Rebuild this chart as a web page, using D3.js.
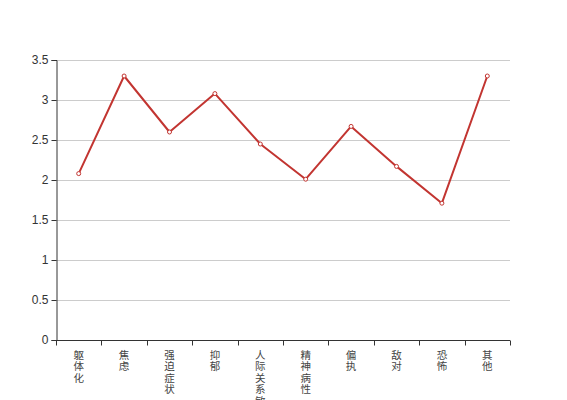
<!DOCTYPE html>
<html>
<head>
<meta charset="utf-8">
<script src="https://cdn.jsdelivr.net/npm/d3@7"></script>
<style>
  body { margin: 0; background: #fff; }
  svg { display: block; font-family: "Liberation Sans", "Noto Sans CJK SC", sans-serif; }
</style>
</head>
<body>
<div id="chart"></div>
<script>
// Factor scores
const categories = ["躯体化", "焦虑", "强迫症状", "抑郁", "人际关系敏感", "精神病性", "偏执", "敌对", "恐怖", "其他"];
const values = [2.08, 3.30, 2.60, 3.08, 2.45, 2.01, 2.67, 2.17, 1.71, 3.30];
const yTicks = [0, 0.5, 1, 1.5, 2, 2.5, 3, 3.5];

const width = 567, height = 400;
const margin = { top: 60, right: 57, bottom: 60, left: 56 };
const innerWidth = width - margin.left - margin.right;
const innerHeight = height - margin.top - margin.bottom;

const svg = d3.select("#chart").append("svg")
  .attr("width", width)
  .attr("height", height);

const g = svg.append("g")
  .attr("transform", `translate(${margin.left},${margin.top})`);

const x = d3.scaleBand()
  .domain(categories)
  .range([0, innerWidth]);

const y = d3.scaleLinear()
  .domain([0, 3.5])
  .range([innerHeight, 0]);

// Grid lines
g.append("g")
  .selectAll("line")
  .data(yTicks.filter(t => t > 0))
  .join("line")
  .attr("x1", 0)
  .attr("x2", innerWidth)
  .attr("y1", d => Math.round(y(d)) + 0.5)
  .attr("y2", d => Math.round(y(d)) + 0.5)
  .attr("stroke", "#ccc")
  .attr("stroke-width", 1);

// Y axis
const yAxis = g.append("g")
  .attr("transform", "translate(0.5,0)")
  .call(d3.axisLeft(y).tickValues(yTicks).tickSize(5).tickPadding(3).tickFormat(d3.format("")));
yAxis.select(".domain").attr("stroke", "#333");
yAxis.selectAll(".tick line").attr("stroke", "#333");
yAxis.selectAll(".tick text")
  .attr("fill", "#333")
  .attr("font-size", "12px")
  .attr("font-family", "Liberation Sans, sans-serif");

// X axis with ticks on the band boundaries
const xAxis = g.append("g")
  .attr("transform", `translate(0,${innerHeight + 0.5})`);
xAxis.append("line")
  .attr("x1", 0)
  .attr("x2", innerWidth)
  .attr("stroke", "#333");
const bounds = categories.map(c => x(c)).concat([innerWidth]);
xAxis.selectAll("line.tick")
  .data(bounds)
  .join("line")
  .attr("class", "tick")
  .attr("x1", d => Math.round(d) + 0.5)
  .attr("x2", d => Math.round(d) + 0.5)
  .attr("y1", 0)
  .attr("y2", 5)
  .attr("stroke", "#333");

// Vertical category labels, one character per line
const labels = xAxis.selectAll("text.label")
  .data(categories)
  .join("text")
  .attr("class", "label")
  .attr("text-anchor", "middle")
  .attr("fill", "#444")
  .attr("font-size", "10.5px")
  .attr("font-family", "Noto Sans CJK SC, sans-serif");
labels.each(function(c) {
  const t = d3.select(this);
  [...c].forEach((ch, i) => {
    t.append("tspan")
      .attr("x", x(c) + x.bandwidth() / 2)
      .attr("y", 18 + i * 11.5)
      .text(ch);
  });
});

// Line
const line = d3.line()
  .x((d, i) => x(categories[i]) + x.bandwidth() / 2)
  .y(d => y(d));

g.append("path")
  .datum(values)
  .attr("fill", "none")
  .attr("stroke", "#c23531")
  .attr("stroke-width", 2)
  .attr("stroke-linejoin", "round")
  .attr("d", line);

// Points
g.selectAll("circle.pt")
  .data(values)
  .join("circle")
  .attr("class", "pt")
  .attr("cx", (d, i) => x(categories[i]) + x.bandwidth() / 2)
  .attr("cy", d => y(d))
  .attr("r", 2)
  .attr("fill", "#fff")
  .attr("stroke", "#c23531")
  .attr("stroke-width", 1);
</script>
</body>
</html>
